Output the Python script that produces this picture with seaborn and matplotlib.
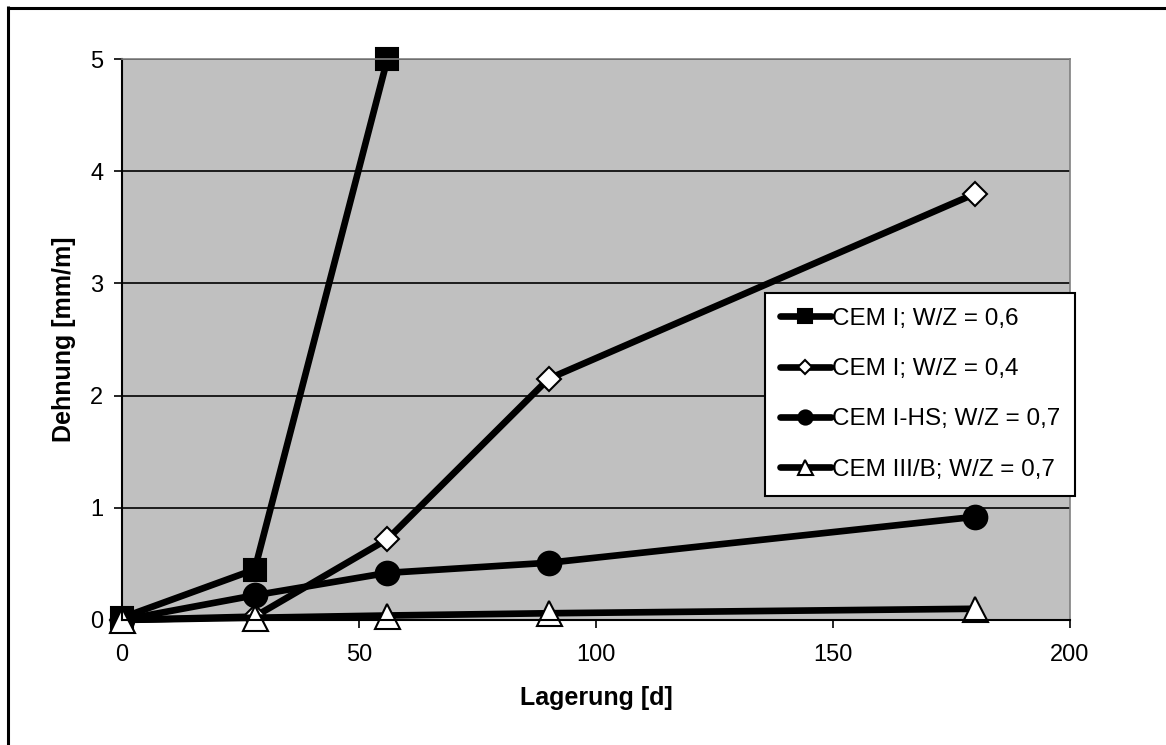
import matplotlib
matplotlib.use("Agg")
import matplotlib.pyplot as plt
import seaborn as sns
import pandas as pd
from matplotlib.lines import Line2D

sns.set_style("white")
plt.rcParams['font.family'] = ['Liberation Sans', 'DejaVu Sans']
plt.rcParams['text.color'] = 'black'
plt.rcParams['axes.labelcolor'] = 'black'
plt.rcParams['xtick.color'] = 'black'
plt.rcParams['ytick.color'] = 'black'

days = [0, 28, 56, 90, 180]
labels = ["CEM I; W/Z = 0,6", "CEM I; W/Z = 0,4", "CEM I-HS; W/Z = 0,7", "CEM III/B; W/Z = 0,7"]
s1_days = [0, 28, 56]
s1 = [0.02, 0.45, 5.0]
s2 = [0.0, 0.03, 0.72, 2.15, 3.8]
s3 = [0.0, 0.22, 0.42, 0.51, 0.92]
s4 = [0.0, 0.02, 0.04, 0.06, 0.1]

series = [
    (s1_days, s1, dict(marker="s", markersize=16, markerfacecolor="black")),
    (days, s2, dict(marker="D", markersize=12, markerfacecolor="white")),
    (days, s3, dict(marker="o", markersize=17, markerfacecolor="black")),
    (days, s4, dict(marker="^", markersize=18, markerfacecolor="white")),
]

fig = plt.figure(figsize=(11.66, 7.45), dpi=100)
ax = fig.add_axes([0.1046, 0.1678, 0.8131, 0.7530])
ax.set_facecolor("#C0C0C0")

for (x, y, kw), lab in zip(series, labels):
    df = pd.DataFrame({"x": x, "y": y})
    sns.lineplot(data=df, x="x", y="y", ax=ax, color="black", linewidth=4.8,
                 markeredgecolor="black", markeredgewidth=1.5, label=lab,
                 clip_on=False, **kw)

ax.set_xlim(0, 200)
ax.set_ylim(0, 5)
ax.set_xticks([0, 50, 100, 150, 200])
ax.set_yticks([0, 1, 2, 3, 4, 5])
ax.yaxis.grid(True, color="black", linewidth=1.2)
ax.set_axisbelow(True)
ax.tick_params(axis="both", labelsize=17, direction="out", length=5.5, width=1.2,
               color="black", labelcolor="black", left=True, bottom=True)
ax.tick_params(axis="x", pad=12)
ax.tick_params(axis="y", pad=8)
ax.set_xlabel("Lagerung [d]", fontsize=18, fontweight="bold", labelpad=14, color="black")
ax.set_ylabel("Dehnung [mm/m]", fontsize=18, fontweight="bold", labelpad=10, color="black")
for s in ["left", "bottom"]:
    ax.spines[s].set_color("black")
    ax.spines[s].set_linewidth(1.5)
for s in ["right", "top"]:
    ax.spines[s].set_color("#808080")
    ax.spines[s].set_linewidth(1.2)

h, l = ax.get_legend_handles_labels()
leg = ax.legend(h, l, loc="upper left", bbox_to_anchor=(765/1166, 1 - 293/745),
                bbox_transform=fig.transFigure, fontsize=17.5, frameon=True,
                fancybox=False, edgecolor="black", facecolor="white", framealpha=1,
                handlelength=2.1, handletextpad=0.05, labelspacing=1.17,
                borderpad=0.6, borderaxespad=0, markerscale=0.6)
leg.get_frame().set_linewidth(1.5)
for t in leg.get_texts():
    t.set_color("black")

# outer frame (top and left edges visible)
fig.add_artist(Line2D([7.5/1166, 1.0], [1 - 7.5/745, 1 - 7.5/745], transform=fig.transFigure,
                      color="black", linewidth=2.2, solid_capstyle="butt"))
fig.add_artist(Line2D([7.5/1166, 7.5/1166], [0.0, 1 - 6.4/745], transform=fig.transFigure,
                      color="black", linewidth=2.2, solid_capstyle="butt"))
fig.savefig("out.png", dpi=100)
